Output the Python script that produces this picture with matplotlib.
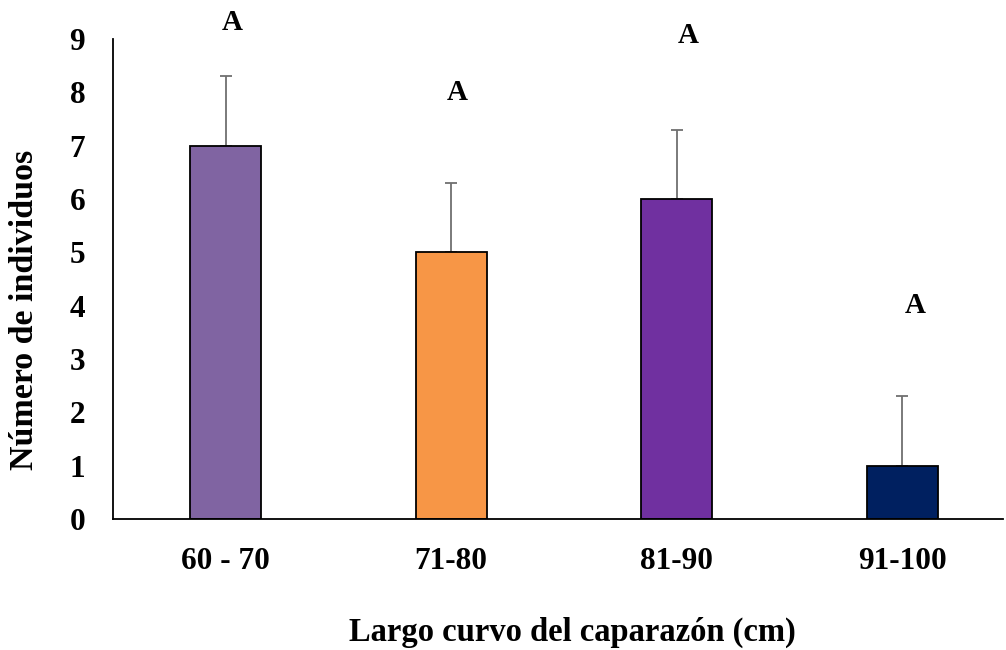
import matplotlib
matplotlib.use("Agg")
import matplotlib.pyplot as plt

categories = ["60 - 70", "71-80", "81-90", "91-100"]
values = [7, 5, 6, 1]
errors = [1.3, 1.3, 1.3, 1.3]
letters = ["A", "A", "A", "A"]
letter_y = [9.3, 8.0, 9.07, 4.0]
letter_dx = [0.027, 0.027, 0.05, 0.06]
colors = ["#8064A2", "#F79646", "#7030A0", "#002060"]

plt.rcParams['font.family'] = ['Liberation Serif', 'DejaVu Serif']
plt.rcParams['font.weight'] = 'bold'

fig = plt.figure(figsize=(10.06, 6.5), dpi=100)
ax = fig.add_axes([113/1006, 1 - 519/650, (1003-113)/1006, (519-39)/650])

x = list(range(len(categories)))
ax.bar(x, values, width=0.315, color=colors, edgecolor="black", linewidth=1.3, zorder=2)
ax.errorbar(x, values, yerr=[[0]*4, errors], fmt="none", ecolor="#6F6F6F",
            elinewidth=1.3, capsize=4.5, capthick=1.3, zorder=1)
for xi, t, ly, dx in zip(x, letters, letter_y, letter_dx):
    ax.text(xi + dx, ly, t, ha="center", va="center", fontsize=21, fontweight="bold", clip_on=False)

ax.set_xlim(-0.5, 3.447)
ax.set_ylim(0, 9)
ax.set_yticks(range(10))
ax.set_xticks(x)
ax.set_xticklabels(categories)
ax.tick_params(axis="both", length=0, labelsize=22.5)
ax.tick_params(axis="x", pad=20)
ax.tick_params(axis="y", pad=20)
for lab in ax.get_xticklabels() + ax.get_yticklabels():
    lab.set_fontweight("bold")
ax.spines["top"].set_visible(False)
ax.spines["right"].set_visible(False)
ax.spines["left"].set_linewidth(1.3)
ax.spines["bottom"].set_linewidth(1.3)

fig.text(25/1006, 1 - 310/650, "Número de individuos", rotation=90, ha="center", va="center",
         fontsize=24.5, fontweight="bold")
fig.text(572/1006, 1 - 632/650, "Largo curvo del caparazón (cm)", ha="center", va="center",
         fontsize=23.5, fontweight="bold")

fig.savefig("out.png", dpi=100)
